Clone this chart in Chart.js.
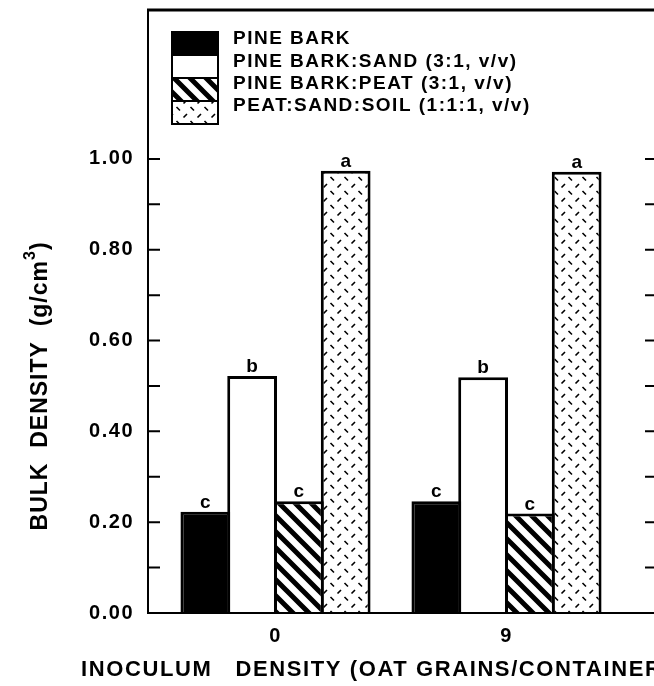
<!DOCTYPE html>
<html>
<head>
<meta charset="utf-8">
<script src="https://cdn.jsdelivr.net/npm/chart.js@4"></script>
<style>
body { margin: 0; overflow: hidden; background: #fff; }
#wrap { width: 700px; height: 686px; }
</style>
</head>
<body>
<div id="wrap"><canvas id="grafico" width="700" height="686"></canvas></div>
<script>
// dados
const categorias = ['0', '9']
const posicoes = [0, 1]
const rotulos = ['PINE BARK', 'PINE BARK:SAND (3:1, v/v)', 'PINE BARK:PEAT (3:1, v/v)', 'PEAT:SAND:SOIL (1:1:1, v/v)']
const pineBark = [0.223, 0.246]
const barkSand = [0.522, 0.519]
const barkPeat = [0.246, 0.219]
const peatSandSoil = [0.974, 0.972]
const letras = [['c', 'c'], ['b', 'b'], ['c', 'c'], ['a', 'a']]
const yTicks = [0, 0.1, 0.2, 0.3, 0.4, 0.5, 0.6, 0.7, 0.8, 0.9, 1.0]

const fonte = "'Liberation Sans', Arial, sans-serif"
Chart.defaults.font.family = fonte
Chart.defaults.color = '#000'

function listrado() {
    const c = document.createElement('canvas')
    c.width = 16
    c.height = 16
    const g = c.getContext('2d')
    g.fillStyle = '#fff'
    g.fillRect(0, 0, 16, 16)
    g.strokeStyle = '#000'
    g.lineWidth = 5
    g.beginPath()
    for (const k of [-16, 0, 16]) {
        g.moveTo(-4, -4 + k)
        g.lineTo(20, 20 + k)
    }
    g.stroke()
    return g.createPattern(c, 'repeat')
}

function tracejado() {
    const c = document.createElement('canvas')
    c.width = 14
    c.height = 14
    const g = c.getContext('2d')
    g.fillStyle = '#fff'
    g.fillRect(0, 0, 14, 14)
    g.strokeStyle = '#000'
    g.lineWidth = 1.6
    g.beginPath()
    g.moveTo(1.5, 5.5)
    g.lineTo(5, 2)
    g.moveTo(8.5, 9)
    g.lineTo(12, 12.5)
    g.stroke()
    return g.createPattern(c, 'repeat')
}

const series = [pineBark, barkSand, barkPeat, peatSandSoil]
const fundos = ['#000', '#fff', listrado(), tracejado()]

const datasets = series.map((vals, i) => ({
    label: rotulos[i],
    data: vals.map((y, j) => ({ x: posicoes[j], y })),
    backgroundColor: fundos[i],
    borderColor: '#000',
    borderWidth: 3,
    borderSkipped: 'start',
    categoryPercentage: 0.81,
    barPercentage: 1.064
}))

const moldura = {
    id: 'moldura',
    beforeDraw(chart) {
        chart.ctx.letterSpacing = '1.5px'
    },
    afterDatasetsDraw(chart) {
        const { ctx, chartArea: a, scales } = chart
        ctx.save()
        ctx.strokeStyle = '#000'
        ctx.lineCap = 'butt'

        // caixa do grafico
        ctx.lineWidth = 2
        ctx.beginPath()
        ctx.moveTo(a.left, a.top)
        ctx.lineTo(a.left, a.bottom)
        ctx.lineTo(a.right, a.bottom)
        ctx.lineTo(a.right, a.top)
        ctx.stroke()
        ctx.lineWidth = 3
        ctx.beginPath()
        ctx.moveTo(a.left - 1, a.top)
        ctx.lineTo(a.right + 1, a.top)
        ctx.stroke()

        // marcas para dentro
        ctx.lineWidth = 2
        yTicks.forEach(v => {
            const y = scales.y.getPixelForValue(v)
            ctx.beginPath()
            ctx.moveTo(a.left, y)
            ctx.lineTo(a.left + 12, y)
            ctx.moveTo(a.right, y)
            ctx.lineTo(a.right - 12, y)
            ctx.stroke()
        })

        // letras sobre as barras
        ctx.fillStyle = '#000'
        ctx.letterSpacing = '0px'
        ctx.font = 'bold 19px ' + fonte
        ctx.textAlign = 'center'
        ctx.textBaseline = 'alphabetic'
        chart.data.datasets.forEach((ds, i) => {
            chart.getDatasetMeta(i).data.forEach((bar, j) => {
                ctx.fillText(letras[i][j], bar.x, bar.y - 4)
            })
        })

        // legenda
        ctx.letterSpacing = '1.5px'
        ctx.textAlign = 'left'
        ctx.textBaseline = 'middle'
        ctx.font = 'bold 19px ' + fonte
        chart.data.datasets.forEach((ds, i) => {
            const bx = a.left + 24
            const by = a.top + 22 + i * 23
            ctx.fillStyle = ds.backgroundColor
            ctx.fillRect(bx, by, 46, 23)
            ctx.lineWidth = 2
            ctx.strokeRect(bx, by, 46, 23)
            ctx.fillStyle = '#000'
            ctx.fillText(ds.label, a.left + 85, a.top + 29 + i * 22.3)
        })

        // titulo do eixo x
        ctx.font = 'bold 22px ' + fonte
        ctx.letterSpacing = '1.6px'
        ctx.fillText('INOCULUM   DENSITY (OAT GRAINS/CONTAINER)', 81, 670)

        // titulo do eixo y
        ctx.letterSpacing = '1px'
        const yc = (scales.y.getPixelForValue(0) + scales.y.getPixelForValue(1)) / 2
        ctx.translate(41, yc)
        ctx.rotate(-Math.PI / 2)
        const p1 = 'BULK  DENSITY  (g/cm'
        const p2 = '3'
        const p3 = ')'
        ctx.font = 'bold 23px ' + fonte
        const w1 = ctx.measureText(p1).width
        const w3 = ctx.measureText(p3).width
        ctx.font = 'bold 16px ' + fonte
        const w2 = ctx.measureText(p2).width
        let x0 = -(w1 + w2 + w3) / 2
        ctx.font = 'bold 23px ' + fonte
        ctx.fillText(p1, x0, 0)
        ctx.font = 'bold 16px ' + fonte
        ctx.fillText(p2, x0 + w1, -10)
        ctx.font = 'bold 23px ' + fonte
        ctx.fillText(p3, x0 + w1 + w2, 0)
        ctx.restore()
    }
}

new Chart(document.getElementById('grafico'), {
    type: 'bar',
    data: { datasets },
    options: {
        responsive: false,
        animation: false,
        layout: { padding: { left: 0, right: 43, top: 10, bottom: 0 } },
        plugins: {
            legend: { display: false },
            tooltip: { enabled: false }
        },
        scales: {
            x: {
                type: 'linear',
                offset: false,
                min: -0.552,
                max: 1.6515,
                afterBuildTicks: s => { s.ticks = posicoes.map(v => ({ value: v })) },
                afterFit: s => {
                    s.height = 73
                    s.paddingLeft = 0
                    s.paddingRight = 0
                },
                ticks: {
                    callback: v => categorias[v],
                    font: { size: 20, weight: 'bold' },
                    padding: 11,
                    maxRotation: 0,
                    autoSkip: false
                },
                grid: { display: false, drawTicks: false },
                border: { display: false }
            },
            y: {
                min: 0,
                max: 1.328,
                afterBuildTicks: s => { s.ticks = yTicks.map(v => ({ value: v })) },
                afterFit: s => {
                    s.width = 148
                    s.paddingTop = 0
                    s.paddingBottom = 0
                },
                ticks: {
                    callback: v => Math.round(v * 10) % 2 === 0 ? v.toFixed(2) : '',
                    font: { size: 20, weight: 'bold' },
                    padding: 14,
                    autoSkip: false
                },
                grid: { display: false, drawTicks: false },
                border: { display: false }
            }
        }
    },
    plugins: [moldura]
})
</script>
</body>
</html>
